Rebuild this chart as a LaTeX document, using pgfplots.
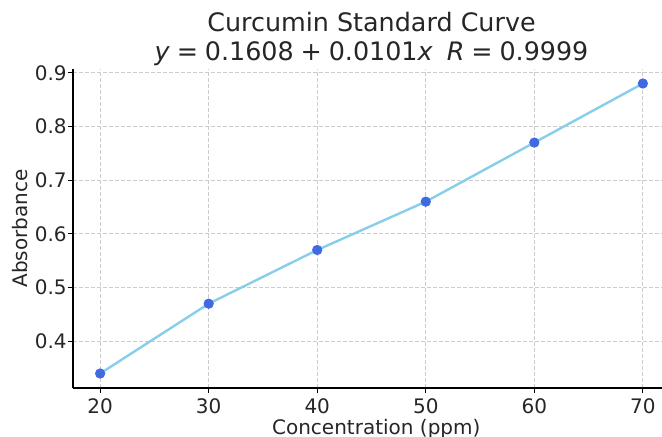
\documentclass[border=0pt]{standalone}
\usepackage{fontspec}
\setmainfont{DejaVu Sans}
\usepackage{pgfplots}
\pgfplotsset{compat=1.18}
\definecolor{skyblue}{RGB}{135,206,235}
\definecolor{royalblue}{RGB}{65,105,225}
\definecolor{txt}{RGB}{38,38,38}
\begin{document}
\begin{tikzpicture}
\begin{axis}[
  scale only axis, width=298.5pt, height=159.5pt,
  xmin=17.5, xmax=72.5, ymin=0.313, ymax=0.907,
  axis lines*=left,
  axis line style={line width=0.6pt, black},
  xtick={20,30,40,50,60,70},
  ytick={0.4,0.5,0.6,0.7,0.8,0.9},
  tick align=outside, major tick length=2.5pt,
  tick style={line width=0.6pt, black},
  grid=major, major grid style={dash pattern=on 1.8pt off 1.2pt, line width=0.4pt, color=black!20},
  /pgf/number format/assume math mode=true,
  ticklabel style={font=\fontsize{10}{12}\selectfont, text=txt},
  yticklabel style={inner sep=0.5pt, /pgf/number format/.cd, fixed, fixed zerofill, precision=1},
  xticklabel style={inner sep=2.5pt},
  clip=false,
]
\addplot[color=skyblue, line width=1.2pt, mark=*, mark size=2.3pt,
  mark options={fill=royalblue, draw=royalblue, line width=0.5pt}]
  coordinates {(20,0.34) (30,0.47) (40,0.57) (50,0.66) (60,0.77) (70,0.88)};
\node[anchor=base, font=\fontsize{12.7}{15}\selectfont, text=txt] at (rel axis cs:0.5,1) [yshift=4pt]
  {\textit{y}\hspace{0.27em}=\hspace{0.27em}0.1608\hspace{0.27em}+\hspace{0.27em}0.0101\textit{x}\hspace{0.55em}\textit{R}\hspace{0.27em}=\hspace{0.27em}0.9999};
\node[anchor=base, font=\fontsize{12.7}{15}\selectfont, text=txt] at (rel axis cs:0.5,1) [yshift=18.5pt]
  {Curcumin Standard Curve};
\node[anchor=base, rotate=90, font=\fontsize{10}{12}\selectfont, text=txt] at (rel axis cs:-0.0754,0.5)
  {Absorbance};
\node[anchor=base, font=\fontsize{10}{12}\selectfont, text=txt] at (rel axis cs:0.508,0) [yshift=-23pt]
  {Concentration (ppm)};
\end{axis}
\pgfresetboundingbox
\path[use as bounding box] ([xshift=-36.5pt,yshift=-24pt]current axis.south west) rectangle ++(331pt,218pt);
\end{tikzpicture}
\end{document}
